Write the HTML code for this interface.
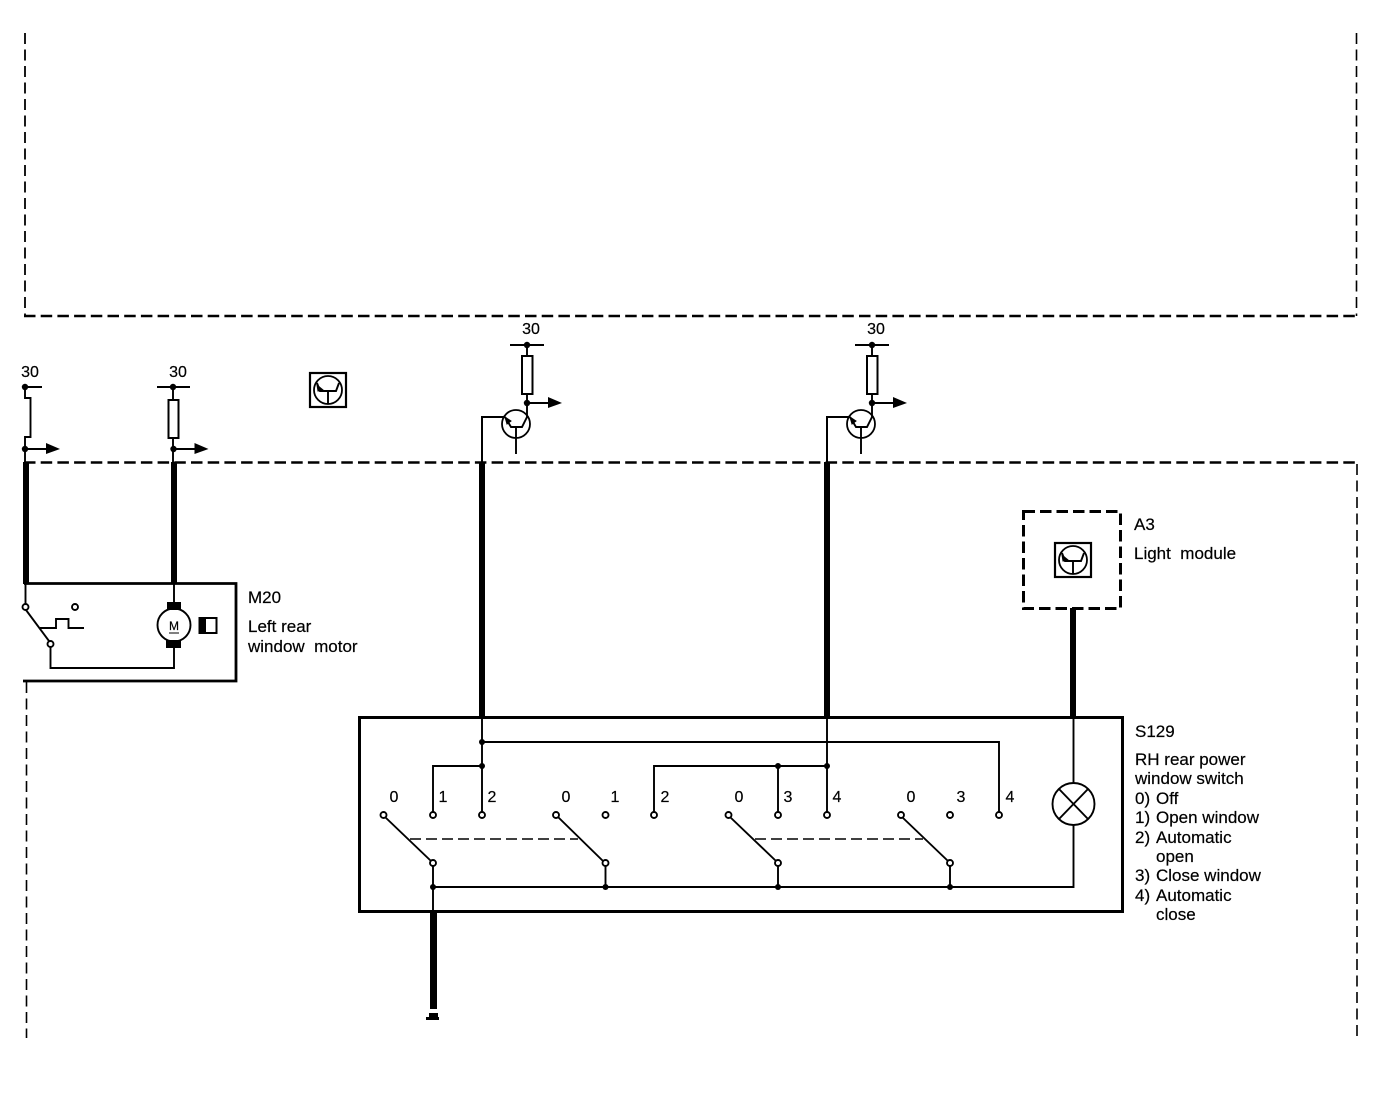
<!DOCTYPE html>
<html><head><meta charset="utf-8"><style>
html,body{margin:0;padding:0;background:#fff}
svg{display:block}
text{font-family:"Liberation Sans",sans-serif;font-size:17px;fill:#000;stroke:#000;stroke-width:.2}
text.d{font-size:16px}
</style></head><body>
<svg width="1392" height="1114" viewBox="0 0 1392 1114" xmlns="http://www.w3.org/2000/svg">
<defs>
<g id="sym"><rect x="-18" y="-17" width="36" height="34" fill="none" stroke="#000" stroke-width="2.200"/><circle cx="0" cy="0" r="14" fill="none" stroke="#000" stroke-width="1.800"/><path d="M-11,-7L-8,1H8L11,-7M0,1V14" fill="none" stroke="#000" stroke-width="1.900"/><path d="M-11,-5L-5,0-10,1Z" fill="#000" stroke="#000"/></g>
<g id="trans"><circle cx="0" cy="0" r="14" fill="none" stroke="#000" stroke-width="1.800"/><path d="M-11,-7L-5,3H6L11,-7V-21M0,3V30" fill="none" stroke="#000" stroke-width="1.900"/><path d="M-11,-7L-5,-3-9,0Z" fill="#000" stroke="#000"/></g>
<g id="arrow"><circle cx="0" cy="0" r="3.2" fill="#000"/><path d="M0,0H22" stroke="#000" stroke-width="2"/><path d="M21,-6L35,0 21,5Z" fill="#000"/></g>
</defs>

<!-- outer dashed frames -->
<g fill="none" stroke="#000">
<path d="M24,316H1357" stroke-width="2.600" stroke-dasharray="11.5 5.2"/>
<path d="M24,462.500H1360" stroke-width="2.600" stroke-dasharray="11.5 5.2"/>
<path d="M25,33V316" stroke-width="1.800" stroke-dasharray="11 5.500"/>
<path d="M1356.500,33V316" stroke-width="1.600" stroke-dasharray="11 5.500"/>
<path d="M1357,464V1038" stroke-width="1.600" stroke-dasharray="11 5.500"/>
<path d="M26.500,682V1038" stroke-width="1.600" stroke-dasharray="11 5.500"/>
</g>

<!-- left feed -->
<g fill="none" stroke="#000" stroke-width="1.900">
<path d="M25,387H42" />
<path d="M25,387V398H30.500V437H25V449" />
<path d="M25,449V462" />
<path d="M157,387H190M173,387V400M173,438V462" />
<rect x="168.500" y="400" width="10" height="38" fill="#fff" stroke-width="2"/>
</g>
<circle cx="25" cy="387" r="3.200"/><circle cx="173" cy="387" r="3.200"/>
<use href="#arrow" x="25" y="449"/><use href="#arrow" x="173.500" y="449"/>
<rect x="23" y="462" width="6" height="122"/><rect x="171" y="462" width="6" height="122"/>

<!-- M20 -->
<path d="M24,583.500H236V681H23" fill="none" stroke="#000" stroke-width="2.800"/>
<g fill="none" stroke="#000" stroke-width="1.900">
<path d="M25.500,584V604M26,610L49,641M40,628H56V619H68.500V628H84M50.500,647V668H174V648M174,584V603"/>
<circle cx="25.500" cy="607" r="3"/><circle cx="75" cy="607" r="3"/><circle cx="50.500" cy="644" r="3"/>
<circle cx="174" cy="625" r="16.500"/>
<rect x="199.500" y="618" width="17" height="15" stroke-width="2"/>
</g>
<rect x="167" y="602" width="14" height="8"/><rect x="166" y="640" width="15" height="8"/>
<rect x="199" y="618" width="7" height="15"/>
<text x="174" y="630" text-anchor="middle" style="font-size:12px">M</text>
<path d="M169,633H179" stroke="#000"/>
<text x="248" y="603">M20</text>
<text x="248" y="632">Left rear</text>
<text x="248" y="652" xml:space="preserve">window  motor</text>
<text class="d" x="30" y="377" text-anchor="middle">30</text>
<text class="d" x="178" y="377" text-anchor="middle">30</text>
<use href="#sym" x="328" y="390"/>

<!-- transistor feeds -->
<g>
<path d="M510,345H544M527,345V356M527,394V403" fill="none" stroke="#000" stroke-width="1.900"/>
<rect x="522" y="356" width="10.500" height="38" fill="#fff" stroke="#000" stroke-width="2"/>
<circle cx="527" cy="345" r="3.200"/>
<use href="#arrow" x="527" y="403"/>
<use href="#trans" x="516" y="424"/>
<path d="M505,417H482V462" fill="none" stroke="#000" stroke-width="2"/>
<text class="d" x="531" y="334" text-anchor="middle">30</text>
</g>
<g transform="translate(345,0)">
<path d="M510,345H544M527,345V356M527,394V403" fill="none" stroke="#000" stroke-width="1.900"/>
<rect x="522" y="356" width="10.500" height="38" fill="#fff" stroke="#000" stroke-width="2"/>
<circle cx="527" cy="345" r="3.200"/>
<use href="#arrow" x="527" y="403"/>
<use href="#trans" x="516" y="424"/>
<path d="M505,417H482V462" fill="none" stroke="#000" stroke-width="2"/>
<text class="d" x="531" y="334" text-anchor="middle">30</text>
</g>
<rect x="479" y="462" width="6" height="256"/>
<rect x="824" y="462" width="6" height="256"/>

<!-- A3 -->
<rect x="1023.500" y="511.500" width="97" height="97" fill="none" stroke="#000" stroke-width="3" stroke-dasharray="11.500 5"/>
<use href="#sym" x="1073" y="560"/>
<rect x="1070" y="608" width="6" height="110"/>
<text x="1134" y="530">A3</text>
<text x="1134" y="559" xml:space="preserve">Light  module</text>

<!-- S129 -->
<rect x="359.500" y="717.500" width="763" height="194" fill="none" stroke="#000" stroke-width="3"/>
<g fill="none" stroke="#000" stroke-width="1.900">
<path d="M482,718V812M482,742H999V812M482,766H433V812"/>
<path d="M827,718V812M827,766H654V812M778,766V812"/>
<path d="M433,866V911M605.500,866V887M778,866V887M950,866V887"/>
<path d="M433,887H1073.500V825M1073.500,718V783"/>
<path d="M385,817L431,861M558,817L603,861M730,817L776,861M902,817L948,861"/>
<circle cx="1073.500" cy="804" r="21"/>
<path d="M1059,789L1088,819M1088,789L1059,819"/>
<g fill="#fff">
<circle cx="383.500" cy="815" r="3"/><circle cx="433" cy="815" r="3"/><circle cx="482" cy="815" r="3"/>
<circle cx="556" cy="815" r="3"/><circle cx="605.500" cy="815" r="3"/><circle cx="654" cy="815" r="3"/>
<circle cx="728.500" cy="815" r="3"/><circle cx="778" cy="815" r="3"/><circle cx="827" cy="815" r="3"/>
<circle cx="901" cy="815" r="3"/><circle cx="950" cy="815" r="3"/><circle cx="999" cy="815" r="3"/>
<circle cx="433" cy="863" r="3"/><circle cx="605.500" cy="863" r="3"/><circle cx="778" cy="863" r="3"/><circle cx="950" cy="863" r="3"/>
</g>
</g>
<path d="M410,839H578M755,839H923" fill="none" stroke="#000" stroke-width="1.500" stroke-dasharray="11 5"/>
<g>
<circle cx="482" cy="742" r="3"/><circle cx="482" cy="766" r="3"/><circle cx="778" cy="766" r="3"/><circle cx="827" cy="766" r="3"/>
<circle cx="433" cy="887" r="3"/><circle cx="605.500" cy="887" r="3"/><circle cx="778" cy="887" r="3"/><circle cx="950" cy="887" r="3"/>
</g>
<rect x="430" y="911" width="7" height="98"/>
<path d="M429,1013H438V1017H439V1020H426V1017H429Z"/>

<g text-anchor="middle">
<text class="d" x="394" y="802">0</text><text class="d" x="443" y="802">1</text><text class="d" x="492" y="802">2</text>
<text class="d" x="566" y="802">0</text><text class="d" x="615" y="802">1</text><text class="d" x="665" y="802">2</text>
<text class="d" x="739" y="802">0</text><text class="d" x="788" y="802">3</text><text class="d" x="837" y="802">4</text>
<text class="d" x="911" y="802">0</text><text class="d" x="961" y="802">3</text><text class="d" x="1010" y="802">4</text>
</g>
<text x="1135" y="737">S129</text>
<text x="1135" y="765">RH rear power</text>
<text x="1135" y="784">window switch</text>
<text x="1135" y="804">0)</text><text x="1156" y="804">Off</text>
<text x="1135" y="823">1)</text><text x="1156" y="823">Open window</text>
<text x="1135" y="843">2)</text><text x="1156" y="843">Automatic</text>
<text x="1156" y="862">open</text>
<text x="1135" y="881">3)</text><text x="1156" y="881">Close window</text>
<text x="1135" y="901">4)</text><text x="1156" y="901">Automatic</text>
<text x="1156" y="920">close</text>
</svg>
</body></html>
